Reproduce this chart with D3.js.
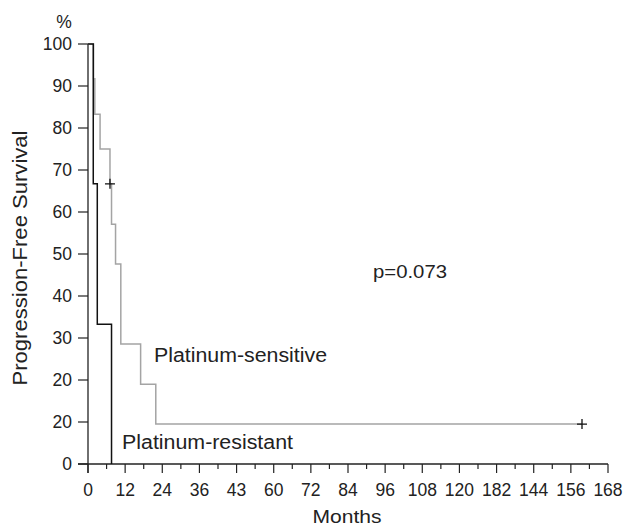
<!DOCTYPE html>
<html>
<head>
<meta charset="utf-8">
<script src="https://cdn.jsdelivr.net/npm/d3@7.9.0/dist/d3.min.js"></script>
<style>
  body { margin: 0; background: #fff; }
  svg text { font-family: "Liberation Sans", Arial, sans-serif; fill: #222; }
</style>
</head>
<body>
<svg width="624" height="526"></svg>
<script>
// tick values and the labels printed on them (as in the original figure)
const xTicks = [0, 12, 24, 36, 48, 60, 72, 84, 96, 108, 120, 132, 144, 156, 168];
const xTickLabels = ["0", "12", "24", "36", "43", "60", "72", "84", "96", "108", "120", "182", "144", "156", "168"];
const yTicks = [0, 10, 20, 30, 40, 50, 60, 70, 80, 90, 100];
const yTickLabels = ["0", "20", "20", "30", "40", "50", "60", "70", "80", "90", "100"];

// Kaplan-Meier steps: [month, survival %]
const sensitiveSteps = [[0, 100], [1.8, 91.7], [2.2, 83.3], [3.9, 75], [7.1, 66.7], [7.6, 57.1],
  [8.9, 47.6], [10.6, 28.6], [17.0, 19.0], [21.9, 9.5], [159.6, 9.5]];
const resistantSteps = [[0, 100], [1.7, 66.7], [3.0, 33.3], [7.6, 0]];
// censored observations
const censorMarks = [[7.1, 66.7], [159.6, 9.5]];

const svg = d3.select('svg');
const x = d3.scaleLinear().domain([0, 168]).range([88, 608]);
const y = d3.scaleLinear().domain([0, 100]).range([464, 44]);

const line = d3.line().x(d => x(d[0])).y(d => y(d[1])).curve(d3.curveStepAfter);

// x axis with minor ticks
const xAxis = svg.append('g').attr('transform', `translate(0,${y(0)})`);
xAxis.append('line').attr('x1', 78).attr('x2', x(168)).attr('stroke', '#222').attr('stroke-width', 1.3);
xAxis.selectAll('.minor').data(d3.range(6, 168, 12)).join('line')
  .attr('x1', d => x(d)).attr('x2', d => x(d)).attr('y1', 0).attr('y2', 5)
  .attr('stroke', '#222').attr('stroke-width', 1.2);
xAxis.selectAll('.major').data(xTicks).join('line')
  .attr('x1', d => x(d)).attr('x2', d => x(d)).attr('y1', 0).attr('y2', 9)
  .attr('stroke', '#222').attr('stroke-width', 1.2);
xAxis.selectAll('text').data(xTicks).join('text')
  .attr('x', d => x(d)).attr('y', 32).attr('text-anchor', 'middle')
  .style('font-size', '17.5px').text((d, i) => xTickLabels[i]);

// y axis
const yAxis = svg.append('g');
yAxis.append('line').attr('x1', x(0)).attr('x2', x(0)).attr('y1', y(100)).attr('y2', y(0) + 9)
  .attr('stroke', '#222').attr('stroke-width', 1.3);
yAxis.selectAll('.tick').data(yTicks).join('line')
  .attr('x1', x(0) - 10).attr('x2', x(0)).attr('y1', d => y(d)).attr('y2', d => y(d))
  .attr('stroke', '#222').attr('stroke-width', 1.2);
yAxis.selectAll('text').data(yTicks).join('text')
  .attr('x', 72).attr('y', d => y(d)).attr('dy', '0.36em').attr('text-anchor', 'end')
  .style('font-size', '17.5px').text((d, i) => yTickLabels[i]);

// curves
svg.append('path').attr('d', line(sensitiveSteps)).attr('fill', 'none')
  .attr('stroke', '#a4a4a4').attr('stroke-width', 1.5);
svg.append('path').attr('d', line(resistantSteps)).attr('fill', 'none')
  .attr('stroke', '#111').attr('stroke-width', 1.5);

// censor marks
censorMarks.forEach(d => {
  svg.append('path')
    .attr('d', `M${x(d[0]) - 5},${y(d[1])}H${x(d[0]) + 5}M${x(d[0])},${y(d[1]) - 5}V${y(d[1]) + 5}`)
    .attr('stroke', '#111').attr('stroke-width', 1.3);
});

// labels
svg.append('text').attr('x', 64).attr('y', 28).attr('text-anchor', 'middle').style('font-size', '17.5px').text('%');
svg.append('text').attr('x', 347).attr('y', 523).attr('text-anchor', 'middle').style('font-size', '19px')
  .attr('textLength', 69).attr('lengthAdjust', 'spacingAndGlyphs').text('Months');
svg.append('text').attr('transform', 'translate(27,258) rotate(-90)').attr('text-anchor', 'middle')
  .style('font-size', '20px').attr('textLength', 255).attr('lengthAdjust', 'spacingAndGlyphs')
  .text('Progression-Free Survival');
svg.append('text').attr('x', 373).attr('y', 278).style('font-size', '19px')
  .attr('textLength', 74).attr('lengthAdjust', 'spacingAndGlyphs').text('p=0.073');
svg.append('text').attr('x', 154).attr('y', 362).style('font-size', '19.5px')
  .attr('textLength', 173).attr('lengthAdjust', 'spacingAndGlyphs').text('Platinum-sensitive');
svg.append('text').attr('x', 122).attr('y', 449).style('font-size', '19.5px')
  .attr('textLength', 171).attr('lengthAdjust', 'spacingAndGlyphs').text('Platinum-resistant');
</script>
</body>
</html>
